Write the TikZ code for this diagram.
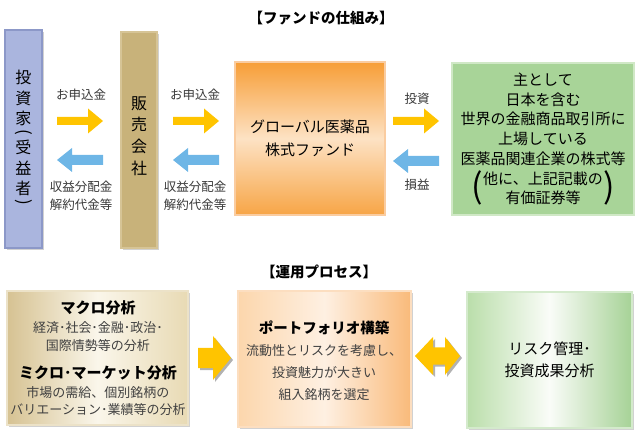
\documentclass[tikz,border=0pt]{standalone}
\usepackage{graphicx}
\usepackage{fontspec}
\setmainfont{Noto Sans CJK JP}
\begin{document}
\begin{tikzpicture}[x=1pt,y=-1pt]
\tikzstyle{box} = [draw,line width=1.2pt,inner sep=0pt,align=center]
\tikzstyle{shadowbox} = [fill=black!18,inner sep=0pt]
\tikzstyle{lbl} = [font=\fontsize{12.5}{17.5}\selectfont,text=black!78,align=center]
\tikzstyle{ttl} = [font=\bfseries\fontsize{14.5}{18}\selectfont]
\tikzstyle{sub} = [font=\fontsize{13}{17.5}\selectfont,text=black!75,align=center]
\tikzstyle{yel} = [fill={rgb,255:red,255;green,196;blue,0}]
\tikzstyle{blu} = [fill={rgb,255:red,110;green,182;blue,230}]
\tikzset{
  rarr/.pic={\fill (0,-4) -- (31,-4) -- (31,-12.5) -- (46,0) -- (31,12.5) -- (31,4) -- (0,4) -- cycle;},
  larr/.pic={\fill (0,-5) -- (-31,-5) -- (-31,-12) -- (-46,0) -- (-31,12) -- (-31,5) -- (0,5) -- cycle;},
  bigrarr/.pic={\fill (0,-10) -- (15,-10) -- (15,-22) -- (33,0) -- (15,22) -- (15,10) -- (0,10) -- cycle;},
  dblarr/.pic={\fill (0,0) -- (18,-19) -- (18,-8.5) -- (30,-8.5) -- (30,-19) -- (45,0) -- (30,19) -- (30,8.5) -- (18,8.5) -- (18,19) -- cycle;}
}
\useasboundingbox (0,0) rectangle (640,430);

% fund scheme
\node[ttl] (title1) at (321,18) {【ファンドの仕組み】};

\node[shadowbox,minimum width=37,minimum height=218] at (25.5,141) {};
\node[box,draw={rgb,255:red,140;green,152;blue,200},fill={rgb,255:red,170;green,181;blue,222},
  minimum width=37,minimum height=218] (inv) at (23.5,139) {};
\node[font=\fontsize{16}{20.5}\selectfont,align=center] (invtxt1) at (23.5,98) {投\\資\\家};
\node[font=\fontsize{17}{17}\selectfont,inner sep=0pt] (invlp) at (23.5,132) {\rotatebox{-90}{(}};
\node[font=\fontsize{16}{20.5}\selectfont,align=center] (invtxt2) at (23.5,168) {受\\益\\者};
\node[font=\fontsize{17}{17}\selectfont,inner sep=0pt] (invrp) at (23.5,202) {\rotatebox{-90}{)}};

\node[shadowbox,minimum width=36,minimum height=216] at (141,142) {};
\node[box,draw={rgb,255:red,214;green,196;blue,150},fill={rgb,255:red,200;green,178;blue,122},
  minimum width=36,minimum height=216] (sales) at (139,140) {};
\node[font=\fontsize{16}{21.7}\selectfont,align=center] (salestxt) at (139,136) {販\\売\\会\\社};

\node[box,draw={rgb,255:red,250;green,204;blue,160},
  top color={rgb,255:red,247;green,158;blue,55},bottom color={rgb,255:red,247;green,165;blue,70},
  middle color={rgb,255:red,253;green,226;blue,196},
  minimum width=150,minimum height=153,font=\fontsize{15}{23.5}\selectfont] (fund) at (310,138.5)
  {グローバル医薬品\\株式ファンド};

\node[box,draw={rgb,255:red,208;green,232;blue,198},fill={rgb,255:red,168;green,212;blue,152},
  minimum width=182,minimum height=152,font=\fontsize{15}{19.7}\selectfont] (stocks) at (543,139)
  {主として\\日本を含む\\世界の金融商品取引所に\\上場している\\医薬品関連企業の株式等\\他に、上記記載の\\有価証券等};
\node[font=\fontsize{34}{34}\selectfont] (lpar) at (477,188) {(};
\node[font=\fontsize{34}{34}\selectfont] (rpar) at (609,188) {)};

\pic[yel] at (57,121) {rarr};
\pic[blu] at (103,160) {larr};
\pic[yel] at (173,121) {rarr};
\pic[blu] at (219,160) {larr};
\pic[yel] at (393,121) {rarr};
\pic[blu] at (439,161) {larr};

\node[lbl] (pay1) at (81,95) {お申込金};
\node[lbl] (ret1) at (81,196) {収益分配金\\解約代金等};
\node[lbl] (pay2) at (195,95) {お申込金};
\node[lbl] (ret2) at (195,196) {収益分配金\\解約代金等};
\node[lbl] (inv2) at (417,99) {投資};
\node[lbl] (pl) at (417,185) {損益};

% process
\node[ttl] (title2) at (319,272) {【運用プロセス】};

\node[shadowbox,minimum width=181,minimum height=134] at (99.5,360) {};
\node[box,draw={rgb,255:red,236;green,226;blue,200},
  left color={rgb,255:red,214;green,194;blue,146},right color={rgb,255:red,232;green,218;blue,180},
  middle color={rgb,255:red,250;green,246;blue,234},
  minimum width=181,minimum height=134] (analysis) at (97.5,358) {};
\node[ttl,font=\bfseries\fontsize{15}{18}\selectfont] (macro) at (98,308) {マクロ分析};
\node[sub] (macrotxt) at (98,336.5) {経済･社会･金融･政治･\\国際情勢等の分析};
\node[ttl,font=\bfseries\fontsize{15}{18}\selectfont] (micro) at (98,373) {ミクロ･マーケット分析};
\node[sub] (microtxt) at (98,401) {市場の需給、個別銘柄の\\バリエーション･業績等の分析};

\pic[black!30] at (200,360) {bigrarr};
\pic[yel] at (198,358) {bigrarr};

\node[shadowbox,minimum width=173,minimum height=136] at (326.5,361) {};
\node[box,draw={rgb,255:red,252;green,222;blue,192},
  left color={rgb,255:red,252;green,214;blue,172},right color={rgb,255:red,249;green,186;blue,122},
  middle color={rgb,255:red,254;green,240;blue,226},
  minimum width=173,minimum height=136] (portfolio) at (324.5,359) {};
\node[ttl] (pftitle) at (324,328) {ポートフォリオ構築};
\node[sub,font=\fontsize{13}{22}\selectfont] (pftxt) at (324,373) {流動性とリスクを考慮し、\\投資魅力が大きい\\組入銘柄を選定};

\pic[black!30] at (417,358) {dblarr};
\pic[yel] at (415,356) {dblarr};

\node[shadowbox,minimum width=165,minimum height=136] at (551.5,362) {};
\node[box,draw={rgb,255:red,212;green,234;blue,204},
  left color={rgb,255:red,186;green,222;blue,170},right color={rgb,255:red,166;green,210;blue,150},
  middle color={rgb,255:red,250;green,252;blue,248},
  minimum width=165,minimum height=136,font=\fontsize{15}{21.5}\selectfont] (risk) at (549.5,360)
  {リスク管理･\\投資成果分析};
\end{tikzpicture}
\end{document}
